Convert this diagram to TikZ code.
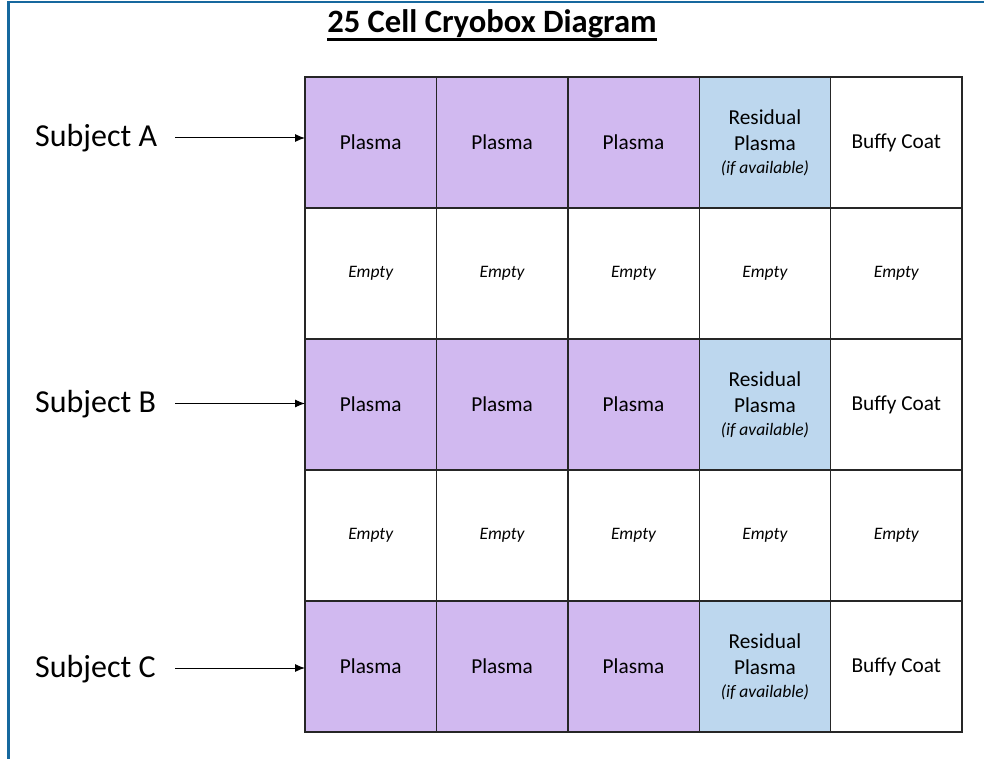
\documentclass[tikz,border=0pt]{standalone}
\usepackage{fontspec}
\setmainfont{Carlito}
\usetikzlibrary{arrows.meta}
\definecolor{frameblue}{RGB}{22,104,158}
\definecolor{lav}{RGB}{209,185,240}
\definecolor{lblue}{RGB}{189,215,238}
\tikzset{
  cell/.style={draw=black!85, line width=1.4pt, minimum width=131.4pt, minimum height=131pt, inner sep=0pt, outer sep=0pt, align=center, font=\fontsize{21.3}{26}\selectfont},
  plasmacell/.style={cell, fill=lav},
  rescell/.style={cell, fill=lblue},
  emptycell/.style={cell, fill=white, font=\fontsize{17.5}{21}\selectfont\itshape},
  buffycell/.style={cell, fill=white},
  subj/.style={anchor=base west, inner sep=0pt, font=\fontsize{32}{36}\selectfont},
  arr/.style={line width=1pt, -{Latex[length=10pt,width=8pt]}},
}
\newcommand{\resid}{Residual\\[0pt]Plasma\\[-3pt]{\fontsize{17.5}{21}\selectfont\itshape (if available)}}
\begin{document}
\begin{tikzpicture}[x=1pt,y=-1pt]
\useasboundingbox (0,0) rectangle (984,759);
\fill[white] (0,0) rectangle (984,759);
% frame
\draw[frameblue, line width=2pt] (7,2) -- (984,2);
\draw[frameblue, line width=3pt] (8,2) -- (8,759);
% title
\node[anchor=base, inner sep=0pt, font=\fontsize{32.6}{38}\selectfont\bfseries] (title) at (492,33) {25 Cell Cryobox Diagram};
\draw[line width=2.5pt] ([yshift=-6.5pt]title.base west) -- ([yshift=-6.5pt]title.base east);
% grid
\foreach \r in {1,3,5} {
  \foreach \c in {1,2,3} {
    \node[plasmacell] (c\r\c) at ({305+131.4*(\c-0.5)},{77+131*(\r-0.5)}) {Plasma};
  }
  \node[rescell] (c\r4) at ({305+131.4*3.5},{77+131*(\r-0.5)}) {\resid};
  \node[buffycell] (c\r5) at ({305+131.4*4.5},{77+131*(\r-0.5)}) {Buffy Coat};
}
\foreach \r in {2,4} {
  \foreach \c in {1,...,5} {
    \node[emptycell] (c\r\c) at ({305+131.4*(\c-0.5)},{77+131*(\r-0.5)}) {Empty};
  }
}
% subjects
\node[subj] (sA) at (35,147) {Subject A};
\node[subj] (sB) at (35,412) {Subject B};
\node[subj] (sC) at (35,677) {Subject C};
\coordinate (aA) at (175,138);
\coordinate (aB) at (175,403.5);
\coordinate (aC) at (175,668);
\draw[arr] (aA) -- (aA -| c11.west);
\draw[arr] (aB) -- (aB -| c31.west);
\draw[arr] (aC) -- (aC -| c51.west);
\end{tikzpicture}
\end{document}
